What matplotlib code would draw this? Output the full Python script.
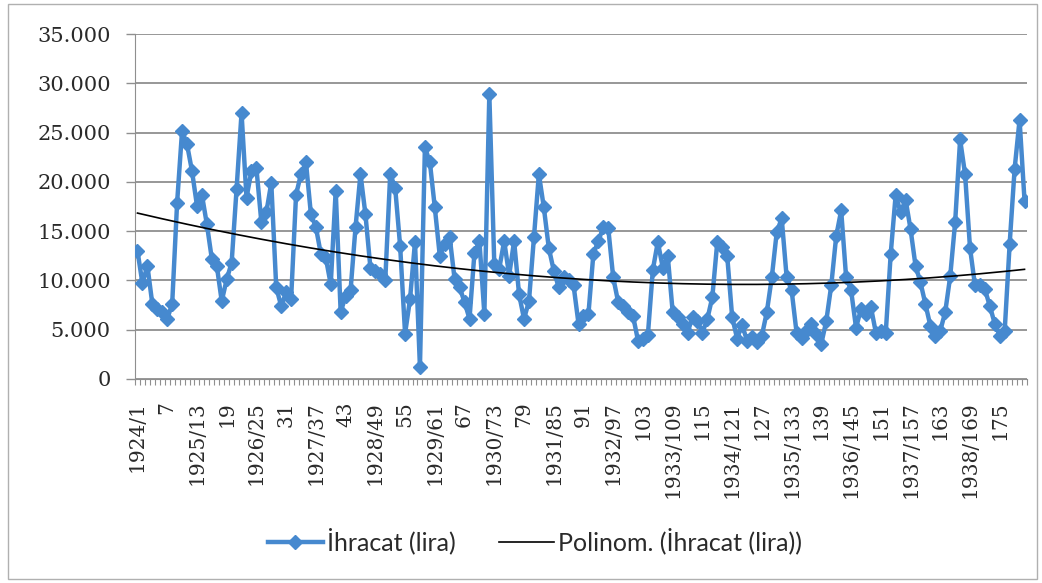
import numpy as np
import matplotlib
matplotlib.use("Agg")
import matplotlib.pyplot as plt
from matplotlib.patches import Rectangle
from matplotlib.ticker import FuncFormatter, MultipleLocator

# monthly exports (lira), Jan 1924 .. Dec 1938, one row per year
ihracat = [
    13000, 9700, 11500, 7600, 7100, 6800, 6100, 7600, 17900, 25200, 23800, 21100,
    17600, 18700, 15700, 12200, 11500, 7900, 10100, 11800, 19300, 27000, 18400, 21100,
    21400, 15900, 16900, 19900, 9300, 7400, 8800, 8100, 18700, 20800, 22000, 16700,
    15400, 12700, 12300, 9600, 19100, 6800, 8400, 9000, 15400, 20800, 16700, 11300,
    11000, 10700, 10000, 20800, 19400, 13500, 4600, 8100, 13900, 1200, 23500, 22000,
    17400, 12500, 13700, 14400, 10100, 9300, 7800, 6100, 12800, 14000, 6600, 28900,
    11700, 11200, 14000, 10500, 14000, 8600, 6100, 7900, 14400, 20800, 17400, 13300,
    11000, 9300, 10300, 10000, 9500, 5600, 6400, 6600, 12700, 14000, 15400, 15300,
    10300, 7800, 7400, 6800, 6400, 3900, 4100, 4500, 11100, 13900, 11300, 12500,
    6800, 6300, 5600, 4700, 6300, 5900, 4700, 6100, 8300, 13900, 13400, 12500,
    6300, 4100, 5500, 3900, 4300, 3800, 4400, 6800, 10300, 14900, 16300, 10300,
    9000, 4700, 4200, 4900, 5600, 4600, 3600, 5900, 9500, 14500, 17100, 10300,
    9000, 5200, 7100, 6600, 7300, 4700, 4900, 4700, 12700, 18700, 16900, 18200,
    15200, 11500, 9800, 7600, 5400, 4400, 4900, 6800, 10400, 15900, 24300, 20800,
    13300, 9500, 9500, 9100, 7400, 5600, 4400, 4900, 13700, 21300, 26300, 18100,
]
years = list(range(1924, 1939))
y_ticks = [0, 5000, 10000, 15000, 20000, 25000, 30000, 35000]

BLUE = "#4689cf"
GRID = "#8f8f8f"
TXT = "#2a2a2a"

n = len(ihracat)
x = np.arange(n)
y = np.array(ihracat, dtype=float)

# Excel "Polinom." trendline (order 2)
coef = np.polyfit(x + 1, y, 2)
trend = np.polyval(coef, x + 1)

# category labels every 6th month, year prefix on January
tick_pos = list(range(0, n, 6))
tick_labels = []
for i in tick_pos:
    if i % 12 == 0:
        tick_labels.append(f"{years[i // 12]}/{i + 1}")
    else:
        tick_labels.append(str(i + 1))

fig = plt.figure(figsize=(10.42, 5.83), dpi=100)
ax = fig.add_axes([135 / 1042, 1 - 379 / 583, 892 / 1042, 345 / 583])

ax.plot(x, y, color=BLUE, lw=3.2, marker="D", ms=7, mfc=BLUE, mec=BLUE,
        label="İhracat (lira)", zorder=3)
ax.plot(x, trend, color="black", lw=1.2, label="Polinom. (İhracat (lira))", zorder=4)

ax.set_xlim(-0.5, n - 0.5)
ax.set_ylim(0, 35000)
ax.set_yticks(y_ticks)
ax.yaxis.set_major_formatter(FuncFormatter(lambda v, p: f"{v:,.0f}".replace(",", ".")))
ax.grid(axis="y", color=GRID, lw=1.3)
ax.set_axisbelow(True)

ax.set_xticks(tick_pos)
ax.set_xticklabels(tick_labels, rotation=90, family="DejaVu Serif", fontsize=14.5, color=TXT)
ax.xaxis.set_minor_locator(MultipleLocator(1, offset=0.5))
ax.tick_params(axis="x", which="major", length=0, pad=16)
ax.tick_params(axis="x", which="minor", length=4, color=GRID, width=0.8)
ax.tick_params(axis="y", length=6.5, color=GRID, width=1, pad=11)
for lab in ax.get_yticklabels():
    lab.set_family("DejaVu Serif")
    lab.set_fontsize(15)
    lab.set_color(TXT)

for side in ["top", "right"]:
    ax.spines[side].set_visible(False)
ax.spines["left"].set_color(GRID)
ax.spines["bottom"].set_color(GRID)

fig.legend(loc="center", bbox_to_anchor=(535 / 1042, 1 - 541 / 583), ncol=2, frameon=False,
           prop={"family": "Lato", "size": 18}, handlelength=2.2, columnspacing=1.76,
           handletextpad=0.16, labelcolor=TXT)

fig.patches.append(Rectangle((8 / 1042, 4 / 583), 1029 / 1042, 575 / 583,
                             transform=fig.transFigure, fill=False,
                             edgecolor="#b0b0b0", lw=1))

fig.savefig("out.png", dpi=100)
